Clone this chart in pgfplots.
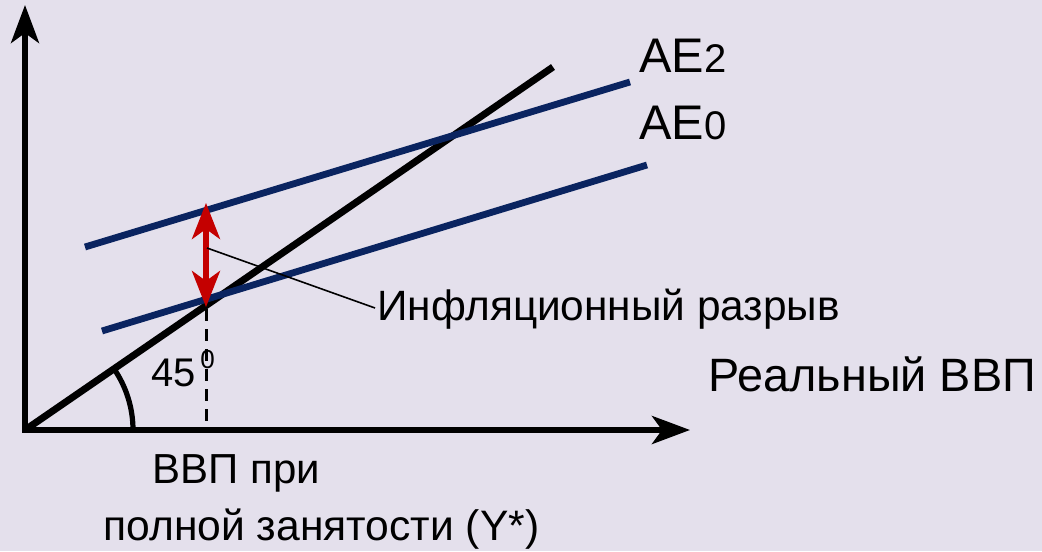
\documentclass[border=0pt]{standalone}
\usepackage{fontspec}
\setmainfont{Liberation Sans}
\usepackage{pgfplots}
\pgfplotsset{compat=1.18}
\usetikzlibrary{arrows.meta}
\definecolor{bgcol}{RGB}{228,224,236}
\definecolor{aeblue}{RGB}{10,36,96}
\definecolor{gapred}{RGB}{196,0,0}
\newcommand{\sz}[1]{\fontsize{#1}{#1}\selectfont}

\begin{document}
\begin{tikzpicture}
\begin{axis}[scale only axis, width=521pt, height=275.5pt,
  xmin=0, xmax=1042, ymin=0, ymax=551, y dir=reverse, hide axis, clip=false]
% background
\addplot[fill=bgcol, draw=none] coordinates {(0,0) (1042,0) (1042,551) (0,551)} -- cycle;
% axes
\addplot[line width=2.8pt, -{Stealth[length=19pt, width=14pt, inset=5pt]}] coordinates {(25,431) (25,5)};
\addplot[line width=2.8pt, -{Stealth[length=19pt, width=14pt, inset=5pt]}] coordinates {(22,430) (690,430)};
% 45 degree line
\addplot[line width=3.5pt, black] coordinates {(25,430) (553,67)};
% AE lines
\addplot[line width=3.4pt, aeblue] coordinates {(102,331) (647,165)};
\addplot[line width=3.4pt, aeblue] coordinates {(85,247) (630,82)};
% dashed full-employment line
\addplot[line width=1.5pt, dash pattern=on 6pt off 4pt] coordinates {(206,309) (206,430)};
% inflation gap
\addplot[line width=2.6pt, gapred, {Stealth[length=18pt, width=14pt, inset=5pt]}-{Stealth[length=18pt, width=14pt, inset=5pt]}] coordinates {(206,307) (206,203)};
% leader
\addplot[line width=0.8pt, black] coordinates {(207,248) (375,308)};
% angle arc
\draw[line width=2.6pt] (axis cs:133,430) arc[start angle=0, end angle=34.6, radius=54pt];

\node[anchor=base west, inner sep=0pt] at (axis cs:639,73) {\sz{24.3pt}AE\sz{20pt}2};
\node[anchor=base west, inner sep=0pt] at (axis cs:639,139) {\sz{24.3pt}AE\sz{20pt}0};
\node[anchor=base west, inner sep=0pt] at (axis cs:377,320) {\sz{21.2pt}Инфляционный разрыв};
\node[anchor=base west, inner sep=0pt] at (axis cs:708,391) {\sz{23.4pt}Реальный ВВП};
\node[anchor=base west, inner sep=0pt] at (axis cs:151,386) {\sz{20pt}45};
\node[anchor=base west, inner sep=0pt] at (axis cs:200,368) {\sz{13pt}0};
\node[anchor=base west, inner sep=0pt] at (axis cs:152,483) {\sz{21pt}ВВП при};
\node[anchor=base west, inner sep=0pt] at (axis cs:103,540) {\sz{21.3pt}полной занятости (Y*)};
\end{axis}
\end{tikzpicture}
\end{document}
